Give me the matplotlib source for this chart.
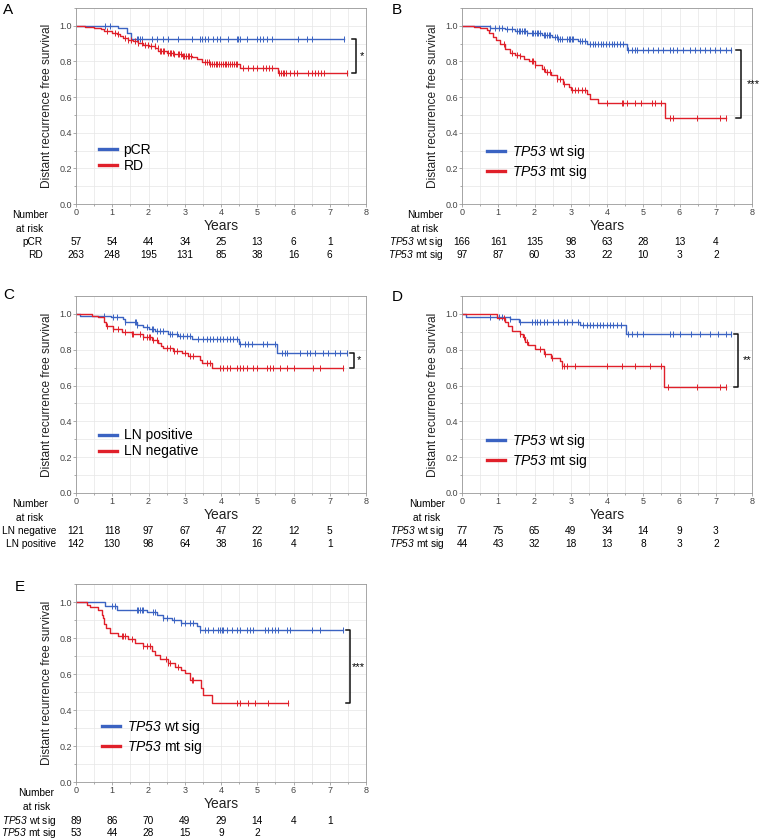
import numpy as np
import matplotlib
matplotlib.use("Agg")
import matplotlib.pyplot as plt
from matplotlib import rcParams
from matplotlib.ticker import MultipleLocator

rcParams['font.family'] = ['Liberation Sans', 'DejaVu Sans']
rcParams['mathtext.fontset'] = 'custom'
rcParams['mathtext.rm'] = 'Liberation Sans'
rcParams['mathtext.sf'] = 'Liberation Sans:italic'   # used for italic gene name incl. digits

BLUE = '#3b63c2'
RED = '#e0202a'

years = [0, 1, 2, 3, 4, 5, 6, 7]
WT = r'$\mathsf{TP53}$ wt sig'
MT = r'$\mathsf{TP53}$ mt sig'

# ---- panel A : pCR vs RD
a_pcr_t = [0, 1.17, 1.40, 1.51]
a_pcr_s = [1.0, 0.985, 0.96, 0.927]
a_pcr_end = 7.39
a_pcr_cens = [0.80, 0.94, 1.67, 1.72, 1.77, 1.81, 2.09, 2.23, 2.41, 2.55, 2.82, 3.19, 3.42, 3.47,
              3.56, 3.65, 3.79, 3.88, 3.97, 4.20, 4.43, 4.48, 4.52, 4.71, 4.98, 5.08, 5.17, 5.26,
              5.40, 6.13, 6.36, 6.50, 7.39]
a_rd_t = [0, 0.25, 0.5, 0.7, 0.78, 1.0, 1.12, 1.21, 1.3, 1.44, 1.58, 1.72, 1.86, 2.0, 2.18, 2.27,
          2.5, 2.69, 2.92, 3.19, 3.33, 3.47, 3.7, 4.52, 5.58]
a_rd_s = [1.0, 0.995, 0.99, 0.98, 0.97, 0.962, 0.955, 0.944, 0.933, 0.921, 0.912, 0.903, 0.893,
          0.884, 0.874, 0.861, 0.85, 0.843, 0.831, 0.824, 0.813, 0.798, 0.785, 0.766, 0.738]
a_rd_end = 7.47
a_rd_cens = [0.85, 1.08, 1.17, 1.35, 1.44, 1.53, 1.62, 1.72, 1.81, 1.9, 1.99, 2.08, 2.17, 2.26,
             2.31, 2.35, 2.4, 2.44, 2.53, 2.58, 2.62, 2.67, 2.71, 2.8, 2.85, 2.9, 2.94, 2.99, 3.03,
             3.08, 3.12, 3.17, 3.56, 3.61, 3.66, 3.7, 3.75, 3.8, 3.85, 3.9, 3.95, 4.0, 4.05, 4.1,
             4.15, 4.2, 4.25, 4.3, 4.35, 4.4, 4.45, 4.6, 4.75, 4.88, 4.98, 5.15, 5.24, 5.33, 5.42,
             5.6, 5.65, 5.7, 5.75, 5.8, 5.9, 6.0, 6.1, 6.4, 6.5, 6.58, 6.67, 6.76, 6.85, 7.47]
a_risk_pcr = [57, 54, 44, 34, 25, 13, 6, 1]
a_risk_rd = [263, 248, 195, 131, 85, 38, 16, 6]

# ---- panel B : TP53 sig, all
b_wt_t = [0, 0.78, 1.19, 1.47, 1.79, 2.2, 2.48, 2.66, 3.21, 3.44, 4.54]
b_wt_s = [1.0, 0.989, 0.98, 0.97, 0.959, 0.95, 0.94, 0.927, 0.915, 0.9, 0.866]
b_wt_end = 7.43
b_wt_cens = [0.78, 0.92, 1.01, 1.10, 1.24, 1.38, 1.51, 1.56, 1.6, 1.65, 1.7, 1.74, 1.79, 1.93,
             1.97, 2.02, 2.06, 2.11, 2.16, 2.25, 2.3, 2.34, 2.39, 2.43, 2.57, 2.62, 2.66, 2.71,
             2.75, 2.89, 2.94, 2.98, 3.03, 3.07, 3.26, 3.3, 3.39, 3.53, 3.6, 3.68, 3.75, 3.83,
             3.9, 3.98, 4.05, 4.13, 4.2, 4.28, 4.36, 4.45, 4.59, 4.68, 4.77, 4.82, 5.0, 5.14,
             5.28, 5.41, 5.55, 5.73, 5.83, 5.92, 6.1, 6.28, 6.42, 6.56, 6.7, 6.83, 6.97, 7.11,
             7.29, 7.43]
b_mt_t = [0, 0.32, 0.5, 0.69, 0.75, 0.85, 0.95, 1.06, 1.19, 1.33, 1.45, 1.6, 1.7, 1.84, 2.0,
          2.2, 2.3, 2.46, 2.61, 2.78, 2.94, 3.0, 3.46, 3.53, 3.76, 5.6]
b_mt_s = [1.0, 0.995, 0.99, 0.978, 0.96, 0.94, 0.92, 0.9, 0.87, 0.85, 0.838, 0.83, 0.815, 0.8,
          0.782, 0.76, 0.74, 0.722, 0.703, 0.675, 0.655, 0.642, 0.62, 0.59, 0.565, 0.483]
b_mt_end = 7.29
b_mt_cens = [1.15, 1.38, 1.51, 1.61, 1.93, 1.97, 2.02, 2.25, 2.34, 2.43, 2.61, 2.71, 2.8, 3.03,
             3.12, 3.21, 3.3, 3.39, 3.99, 4.4, 4.45, 4.54, 4.77, 4.95, 5.23, 5.32, 5.5, 5.73,
             5.83, 6.47, 7.11, 7.29]
b_risk_wt = [166, 161, 135, 98, 63, 28, 13, 4]
b_risk_mt = [97, 87, 60, 33, 22, 10, 3, 2]

# ---- panel C : LN status
c_pos_t = [0, 0.1, 0.96, 1.3, 1.35, 1.67, 1.85, 2.0, 2.18, 2.55, 2.8, 3.19, 4.5, 5.54]
c_pos_s = [1.0, 0.99, 0.98, 0.97, 0.953, 0.938, 0.928, 0.916, 0.905, 0.888, 0.877, 0.86, 0.83,
           0.784]
c_pos_end = 7.47
c_pos_cens = [0.77, 1.03, 1.14, 1.35, 1.63, 1.66, 1.69, 1.95, 2.09, 2.13, 2.23, 2.32, 2.41, 2.59,
              2.64, 2.78, 2.87, 2.96, 3.05, 3.14, 3.37, 3.51, 3.6, 3.7, 3.79, 3.88, 3.97, 4.06,
              4.16, 4.25, 4.34, 4.43, 4.52, 4.66, 4.75, 4.85, 5.17, 5.26, 5.49, 5.67, 5.77, 5.81,
              6.18, 6.36, 6.46, 6.59, 6.82, 6.96, 7.14, 7.28, 7.47]
c_neg_t = [0, 0.43, 0.62, 0.77, 0.83, 1.03, 1.26, 1.54, 1.86, 2.09, 2.27, 2.35, 2.41, 2.68, 2.92,
           3.1, 3.42, 3.47, 3.74]
c_neg_s = [1.0, 0.99, 0.98, 0.955, 0.93, 0.916, 0.9, 0.888, 0.873, 0.854, 0.836, 0.82, 0.81,
           0.795, 0.78, 0.765, 0.745, 0.724, 0.7]
c_neg_end = 7.36
c_neg_cens = [0.85, 1.03, 1.17, 1.35, 1.54, 1.58, 1.77, 1.86, 1.95, 2.0, 2.04, 2.13, 2.23, 2.5,
              2.59, 2.69, 2.78, 3.01, 3.14, 3.24, 3.6, 3.7, 3.97, 4.06, 4.16, 4.25, 4.43, 4.52,
              4.62, 4.71, 4.89, 4.98, 5.26, 5.35, 5.44, 5.63, 5.81, 6.0, 6.55, 6.73, 7.36]
c_risk_neg = [121, 118, 97, 67, 47, 22, 12, 5]
c_risk_pos = [142, 130, 98, 64, 38, 16, 4, 1]

# ---- panel D : TP53 sig, LN negative
d_wt_t = [0, 0.12, 1.33, 1.56, 3.26, 4.52]
d_wt_s = [1.0, 0.985, 0.972, 0.957, 0.937, 0.89]
d_wt_end = 7.43
d_wt_cens = [0.78, 1.01, 1.1, 1.33, 1.61, 1.93, 2.02, 2.06, 2.16, 2.25, 2.34, 2.52, 2.66, 2.8,
             2.89, 3.03, 3.21, 3.35, 3.44, 3.53, 3.62, 3.72, 3.81, 3.9, 3.99, 4.08, 4.17, 4.28,
             4.38, 4.59, 4.68, 4.82, 5.0, 5.73, 5.83, 6.01, 6.33, 6.56, 6.83, 7.06, 7.29, 7.43]
d_mt_t = [0, 0.96, 1.19, 1.28, 1.38, 1.61, 1.68, 1.74, 1.83, 2.02, 2.25, 2.45, 2.7, 2.75, 5.57]
d_mt_s = [1.0, 0.976, 0.957, 0.933, 0.907, 0.888, 0.87, 0.845, 0.826, 0.802, 0.774, 0.755,
          0.735, 0.709, 0.593]
d_mt_end = 7.29
d_mt_cens = [1.15, 1.61, 1.7, 1.79, 2.16, 2.29, 2.48, 2.75, 2.8, 2.89, 3.12, 3.99, 4.4, 4.77,
             5.18, 5.5, 5.69, 6.47, 7.11, 7.29]
d_risk_wt = [77, 75, 65, 49, 34, 14, 9, 3]
d_risk_mt = [44, 43, 32, 18, 13, 8, 3, 2]

# ---- panel E : TP53 sig, LN positive
e_wt_t = [0, 0.8, 1.12, 1.95, 2.23, 2.41, 2.64, 2.91, 3.33, 3.42]
e_wt_s = [1.0, 0.977, 0.957, 0.945, 0.926, 0.911, 0.9, 0.883, 0.864, 0.842]
e_wt_end = 7.36
e_wt_cens = [0.98, 1.08, 1.67, 1.72, 1.77, 1.81, 1.86, 2.13, 2.18, 2.41, 2.5, 2.69, 2.91, 3.01,
             3.14, 3.24, 3.42, 3.56, 3.65, 3.79, 3.93, 3.97, 4.02, 4.06, 4.16, 4.29, 4.43, 4.52,
             4.71, 4.8, 4.89, 5.21, 5.31, 5.4, 5.49, 5.58, 5.81, 5.9, 6.5, 6.73, 7.36]
e_mt_t = [0, 0.29, 0.39, 0.6, 0.71, 0.75, 0.77, 0.83, 0.94, 1.17, 1.44, 1.63, 1.86, 2.09, 2.18,
          2.32, 2.55, 2.73, 2.91, 3.0, 3.14, 3.45, 3.5, 3.74]
e_mt_s = [1.0, 0.985, 0.97, 0.957, 0.93, 0.91, 0.88, 0.855, 0.827, 0.812, 0.794, 0.772, 0.757,
          0.73, 0.706, 0.686, 0.66, 0.641, 0.623, 0.604, 0.567, 0.52, 0.483, 0.437]
e_mt_end = 5.86
e_mt_cens = [1.26, 1.31, 1.35, 1.54, 1.86, 1.95, 2.04, 2.48, 2.55, 2.59, 2.82, 3.19, 3.24, 4.43,
             4.52, 4.75, 4.94, 5.31, 5.86]
e_risk_wt = [89, 86, 70, 49, 29, 14, 4, 1]
e_risk_mt = [53, 44, 28, 15, 9, 2]


def km(ax, t, s, end, cens, color):
    ax.step(list(t) + [end], list(s) + [s[-1]], where='post', color=color, lw=1.0)
    idx = np.searchsorted(t, cens, side='right') - 1
    ax.plot(cens, np.asarray(s)[idx], ls='none', marker='|', ms=4, mew=0.7, color=color)


def setup(ax):
    ax.set_xlim(0, 8)
    ax.set_ylim(0, 1.1)
    ax.xaxis.set_major_locator(MultipleLocator(1))
    ax.xaxis.set_minor_locator(MultipleLocator(0.5))
    ax.set_yticks([0, 0.2, 0.4, 0.6, 0.8, 1.0])
    ax.yaxis.set_minor_locator(MultipleLocator(0.1))
    ax.set_yticklabels(['0.0', '0.2', '0.4', '0.6', '0.8', '1.0'])
    ax.grid(True, which='both', color='#e6e6e6', lw=0.5)
    ax.set_axisbelow(True)
    ax.tick_params(which='both', labelsize=6.5, labelcolor='#444444', color='#888888',
                   length=2, width=0.5, pad=1)
    ax.tick_params(which='minor', length=1.5)
    for sp in ax.spines.values():
        sp.set_color('#999999')
        sp.set_linewidth(0.6)
    ax.text(-0.1, 0.5, 'Distant recurrence free survival', transform=ax.transAxes,
            rotation=90, ha='center', va='center', fontsize=8.6, color='#222222')
    ax.text(0.5, -0.11, 'Years', transform=ax.transAxes, ha='center', va='center',
            fontsize=10, color='#222222')


def risk_table(ax, labels, rows, lab_x, head_x):
    tr = ax.get_xaxis_transform()
    ax.text(head_x, -0.058, 'Number', transform=tr, ha='center', va='center', fontsize=7.3)
    ax.text(head_x, -0.125, 'at risk', transform=tr, ha='center', va='center', fontsize=7.3)
    for k, (lab, vals) in enumerate(zip(labels, rows)):
        yy = -0.195 - 0.064 * k
        ax.text(lab_x, yy, lab, transform=tr, ha='right', va='center', fontsize=7.3)
        for xv, n in zip(years, vals):
            ax.text(xv, yy, str(n), transform=tr, ha='center', va='center', fontsize=7.3)


def bracket(ax, x0, x1, ytop, ybot, stars, sx):
    ax.plot([x0, x1, x1, x0], [ytop, ytop, ybot, ybot], color='#111111', lw=1.1,
            clip_on=False)
    ax.text(sx, (ytop + ybot) / 2, stars, ha='center', va='center', fontsize=8, clip_on=False)


def legend(ax, labels, x, y):
    h = [plt.Line2D([], [], color=BLUE, lw=2.4), plt.Line2D([], [], color=RED, lw=2.4)]
    ax.legend(h, labels, loc='upper left', bbox_to_anchor=(x, y), frameon=False,
              fontsize=10, handlelength=1.3, handletextpad=0.5, labelspacing=0.15,
              borderpad=0, borderaxespad=0)


W, H = 764, 839
fig = plt.figure(figsize=(W / 100, H / 100), dpi=100)


def axes_at(left, top, right, bottom):
    return fig.add_axes([left / W, 1 - bottom / H, (right - left) / W, (bottom - top) / H])


axA = axes_at(76, 8, 366, 204)
axB = axes_at(462, 8, 752, 204)
axC = axes_at(76, 296, 366, 493)
axD = axes_at(462, 296, 752, 493)
axE = axes_at(76, 584, 366, 782)
for ax in (axA, axB, axC, axD, axE):
    setup(ax)

# A
km(axA, a_pcr_t, a_pcr_s, a_pcr_end, a_pcr_cens, BLUE)
km(axA, a_rd_t, a_rd_s, a_rd_end, a_rd_cens, RED)
legend(axA, ['pCR', 'RD'], 0.078, 0.31)
bracket(axA, 7.6, 7.72, a_pcr_s[-1], a_rd_s[-1], '*', 7.88)
risk_table(axA, ['pCR', 'RD'], [a_risk_pcr, a_risk_rd], -0.91, -1.27)

# B
km(axB, b_wt_t, b_wt_s, b_wt_end, b_wt_cens, BLUE)
km(axB, b_mt_t, b_mt_s, b_mt_end, b_mt_cens, RED)
legend(axB, [WT, MT], 0.087, 0.31)
bracket(axB, 7.57, 7.69, b_wt_s[-1], b_mt_s[-1], '***', 8.05)
risk_table(axB, [WT, MT], [b_risk_wt, b_risk_mt], -0.52, -1.02)

# C
km(axC, c_pos_t, c_pos_s, c_pos_end, c_pos_cens, BLUE)
km(axC, c_neg_t, c_neg_s, c_neg_end, c_neg_cens, RED)
legend(axC, ['LN positive', 'LN negative'], 0.078, 0.328)
bracket(axC, 7.56, 7.67, c_pos_s[-1], c_neg_s[-1], '*', 7.8)
risk_table(axC, ['LN negative', 'LN positive'], [c_risk_neg, c_risk_pos], -0.55, -1.27)

# D
km(axD, d_wt_t, d_wt_s, d_wt_end, d_wt_cens, BLUE)
km(axD, d_mt_t, d_mt_s, d_mt_end, d_mt_cens, RED)
legend(axD, [WT, MT], 0.087, 0.31)
bracket(axD, 7.5, 7.61, d_wt_s[-1], d_mt_s[-1], '**', 7.86)
risk_table(axD, [WT, MT], [d_risk_wt, d_risk_mt], -0.5, -0.97)

# E
km(axE, e_wt_t, e_wt_s, e_wt_end, e_wt_cens, BLUE)
km(axE, e_mt_t, e_mt_s, e_mt_end, e_mt_cens, RED)
legend(axE, [WT, MT], 0.089, 0.325)
bracket(axE, 7.45, 7.56, e_wt_s[-1], e_mt_s[-1], '***', 7.8)
risk_table(axE, [WT, MT], [e_risk_wt, e_risk_mt], -0.55, -1.1)

for lab, px, py in [('A', 3, 3), ('B', 392, 3), ('C', 3, 288), ('D', 392, 290), ('E', 15, 580)]:
    fig.text(px / W, 1 - py / H, lab, ha='left', va='top', fontsize=11)

fig.savefig('out.png', dpi=100)
